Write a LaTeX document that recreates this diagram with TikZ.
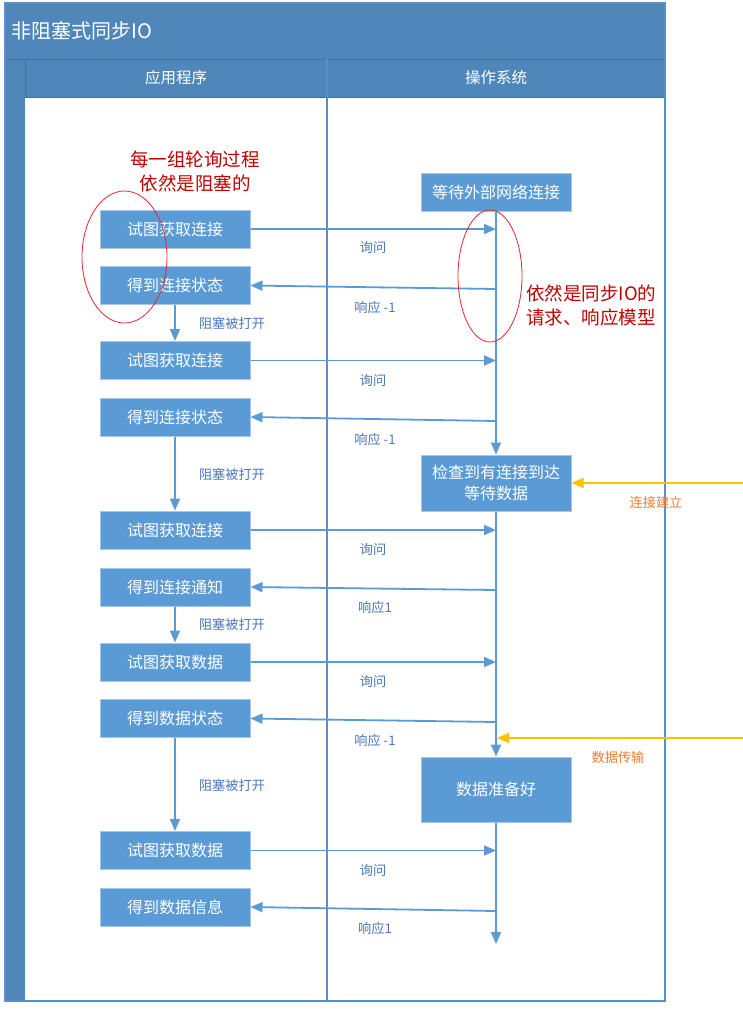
\documentclass[tikz,border=0pt]{standalone}
\usepackage{fontspec}
\setmainfont{Noto Sans CJK SC}
\usetikzlibrary{arrows.meta,shapes.geometric}
\definecolor{band}{HTML}{4F87BA}
\definecolor{bandedge}{HTML}{41729F}
\definecolor{boxblue}{HTML}{5B9BD5}
\definecolor{boxedge}{HTML}{A9C6E4}
\definecolor{linec}{HTML}{5B9BD5}
\definecolor{divc}{HTML}{5B8FC7}
\definecolor{lbl}{HTML}{4A77BD}
\definecolor{redt}{HTML}{C00000}
\definecolor{redl}{HTML}{E8262B}
\definecolor{orangel}{HTML}{ED7D31}
\definecolor{yell}{HTML}{FFC000}
\begin{document}
\begin{tikzpicture}[x=1pt,y=-1pt,
  box/.style={draw=boxedge, line width=1pt, fill=boxblue, minimum width=150pt, minimum height=38pt, inner sep=0pt, text=white, font=\fontsize{16}{21}\selectfont, align=center},
  flow/.style={draw=linec, line width=1.8pt, -{Triangle[length=12pt,width=10pt]}},
  yflow/.style={draw=yell, line width=1.8pt, -{Triangle[length=12pt,width=10pt]}},
  lab/.style={text=lbl, font=\fontsize{13.2}{15}\selectfont, inner sep=0pt},
  olab/.style={text=orangel, font=\fontsize{13.2}{15}\selectfont, inner sep=0pt},
  redtext/.style={text=redt, font=\fontsize{18.5}{24}\selectfont, inner sep=0pt},
  oval/.style={ellipse, draw=redl, line width=0.8pt, inner sep=0pt},
  hdr/.style={text=white, font=\fontsize{15.5}{17}\selectfont, inner sep=0pt}
]
\useasboundingbox (0,0) rectangle (743,1010);
% frame
\fill[white] (5,3) rectangle (665,1001);
\fill[band] (5,3) rectangle (665,59);
\fill[band] (5,59) rectangle (25,1001);
\fill[band] (25,59) rectangle (665,97);
\draw[bandedge, line width=1pt] (5,59) -- (665,59);
\draw[bandedge, line width=1pt] (25,59) -- (25,97);
\draw[bandedge, line width=0.8pt] (25,97) -- (665,97);
\draw[divc, line width=1.2pt] (327,59) -- (327,1001);
\draw[divc, line width=1.5pt] (5,3) rectangle (665,1001);
\node[text=white, font=\fontsize{20}{22}\selectfont, anchor=west, inner sep=0pt] (title) at (11,31) {非阻塞式同步IO};
\node[hdr] (h1) at (176,78) {应用程序};
\node[hdr] (h2) at (496,78) {操作系统};

% left boxes
\node[box] (b1) at (175,229) {试图获取连接};
\node[box] (b2) at (175,285.5) {得到连接状态};
\node[box] (b3) at (175,360.5) {试图获取连接};
\node[box] (b4) at (175,417) {得到连接状态};
\node[box] (b5) at (175,530) {试图获取连接};
\node[box] (b6) at (175,587) {得到连接通知};
\node[box] (b7) at (175,662) {试图获取数据};
\node[box] (b8) at (175,718.5) {得到数据状态};
\node[box] (b9) at (175,850.5) {试图获取数据};
\node[box] (b10) at (175,907) {得到数据信息};

% right boxes
\node[box] (w) at (496,192) {等待外部网络连接};
\node[box, minimum height=56pt] (c) at (496,483) {检查到有连接到达\\等待数据};
\node[box, minimum height=65pt] (d) at (496,789.5) {数据准备好};

% lifeline
\coordinate (endl) at (496,944);
\draw[flow] (w.south) -- (c.north);
\draw[flow] (c.south) -- (d.north);
\draw[flow] (d.south) -- (endl);

% vertical arrows left
\draw[flow] (b2.south) -- (b3.north);
\draw[flow] (b4.south) -- (b5.north);
\draw[flow] (b6.south) -- (b7.north);
\draw[flow] (b8.south) -- (b9.north);
\node[lab] (u1) at (232,323) {阻塞被打开};
\node[lab] (u2) at (232,474) {阻塞被打开};
\node[lab] (u3) at (232,624) {阻塞被打开};
\node[lab] (u4) at (232,785) {阻塞被打开};

% requests / responses
\coordinate (q1) at (496,229);
\coordinate (r1) at (496,289);
\coordinate (q2) at (496,360.5);
\coordinate (r2) at (496,421);
\coordinate (q3) at (496,530);
\coordinate (r3) at (496,590);
\coordinate (q4) at (496,662);
\coordinate (r4) at (496,722);
\coordinate (q5) at (496,850.5);
\coordinate (r5) at (496,911);
\draw[flow] (b1.east) -- (q1);
\draw[flow] (r1) -- (b2.east);
\draw[flow] (b3.east) -- (q2);
\draw[flow] (r2) -- (b4.east);
\draw[flow] (b5.east) -- (q3);
\draw[flow] (r3) -- (b6.east);
\draw[flow] (b7.east) -- (q4);
\draw[flow] (r4) -- (b8.east);
\draw[flow] (b9.east) -- (q5);
\draw[flow] (r5) -- (b10.east);
\node[lab] (l1) at (373,247) {询问};
\node[lab] (l2) at (375,307) {响应 -1};
\node[lab] (l3) at (373,380) {询问};
\node[lab] (l4) at (375,439) {响应 -1};
\node[lab] (l5) at (373,549) {询问};
\node[lab] (l6) at (375,607) {响应1};
\node[lab] (l7) at (373,681) {询问};
\node[lab] (l8) at (375,740) {响应 -1};
\node[lab] (l9) at (373,870) {询问};
\node[lab] (l10) at (375,928) {响应1};

% external arrows
\coordinate (ys1) at (743,483);
\coordinate (ys2) at (743,738);
\coordinate (ye2) at (497,738);
\draw[yflow] (ys1) -- (c.east);
\draw[yflow] (ys2) -- (ye2);
\node[olab] (o1) at (656,502) {连接建立};
\node[olab] (o2) at (618,757) {数据传输};

% red annotations
\node[oval, minimum width=85pt, minimum height=132pt] (e1) at (124.5,257) {};
\node[oval, minimum width=64pt, minimum height=132pt] (e2) at (490,276) {};
\node[redtext, align=center] (t1) at (195,171) {每一组轮询过程\\依然是阻塞的};
\node[redtext, align=left, anchor=west] (t2) at (526,305) {依然是同步IO的\\请求、响应模型};
\end{tikzpicture}
\end{document}
